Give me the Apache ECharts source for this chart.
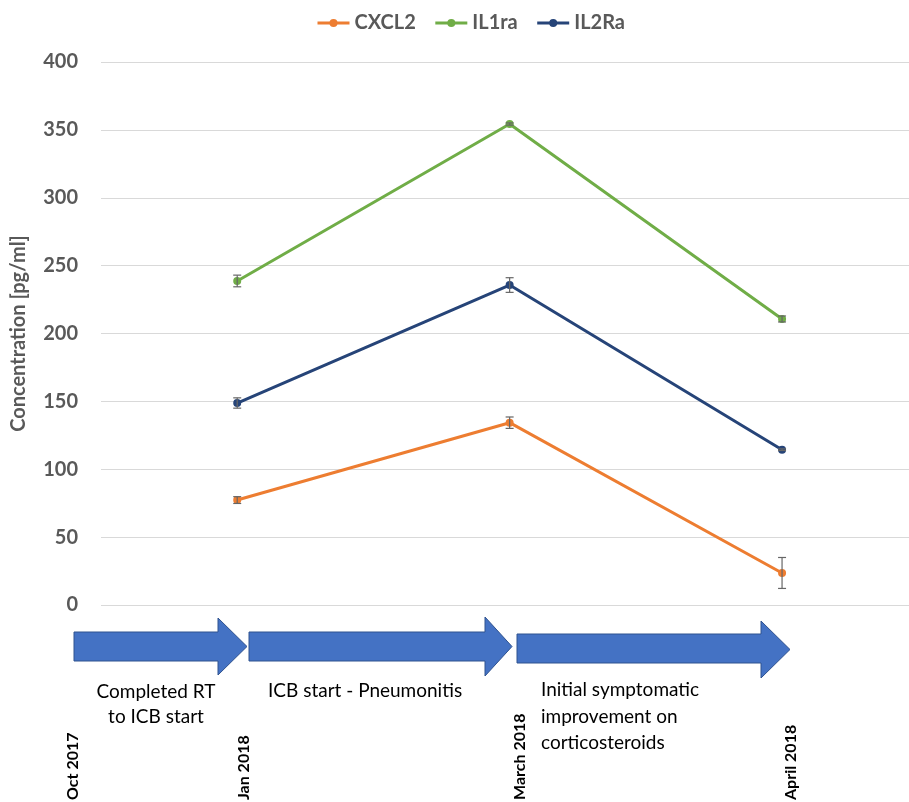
<!DOCTYPE html>
<html>
<head>
<meta charset="utf-8">
<script src="https://cdn.jsdelivr.net/npm/echarts@6/dist/echarts.min.js"></script>
<style>
html,body{margin:0;padding:0;background:#fff;}
#chart{width:909px;height:802px;}
</style>
</head>
<body>
<div id="chart"></div>
<script>
// Time points (index positions on the x scale) and their labels
const timeIndex = [1, 2, 3];
const timeLabels = ['Jan 2018', 'March 2018', 'April 2018'];
const dateTickLabels = ['Oct 2017', 'Jan 2018', 'March 2018', 'April 2018'];

// Series values (pg/ml)
const seriesNames = ['CXCL2', 'IL1ra', 'IL2Ra'];
const cxcl2 = [77.3, 134.3, 23.6];
const il1ra = [238.7, 354.3, 210.7];
const il2ra = [148.8, 235.7, 114.4];

// Error bar half-widths
const cxcl2Err = [2.5, 4.2, 11.4];
const il1raErr = [4.3, 0.8, 2.2];
const il2raErr = [3.8, 5.4, 0.6];

// Y axis ticks
const yTicks = [0, 50, 100, 150, 200, 250, 300, 350, 400];

// Phase annotations
const phaseTexts = ['Completed RT\nto ICB start', 'ICB start - Pneumonitis', 'Initial symptomatic\nimprovement on\ncorticosteroids'];

const colors = ['#ED7D31', '#70AD47', '#264478'];
const FONT = 'Lato, "Open Sans", sans-serif';

function pts(vals) { return vals.map((v, i) => [timeIndex[i], v]); }
function errs(vals, e) { return vals.map((v, i) => [timeIndex[i], v - e[i], v + e[i]]); }

function errRender(params, api) {
  const x = api.value(0);
  const lo = api.coord([x, api.value(1)]);
  const hi = api.coord([x, api.value(2)]);
  const hw = 4;
  const st = { stroke: '#666666', lineWidth: 1.2 };
  return {
    type: 'group',
    children: [
      { type: 'line', shape: { x1: lo[0], y1: lo[1], x2: hi[0], y2: hi[1] }, style: st },
      { type: 'line', shape: { x1: lo[0] - hw, y1: lo[1], x2: lo[0] + hw, y2: lo[1] }, style: st },
      { type: 'line', shape: { x1: hi[0] - hw, y1: hi[1], x2: hi[0] + hw, y2: hi[1] }, style: st }
    ]
  };
}

const lineVals = [cxcl2, il1ra, il2ra];
const errVals = [cxcl2Err, il1raErr, il2raErr];

const series = [];
lineVals.forEach((vals, i) => {
  series.push({
    name: seriesNames[i],
    type: 'line',
    data: pts(vals),
    symbol: 'circle',
    symbolSize: 8,
    lineStyle: { width: 3, color: colors[i] },
    itemStyle: { color: colors[i] },
    z: 2
  });
});
lineVals.forEach((vals, i) => {
  series.push({
    type: 'custom',
    renderItem: errRender,
    data: errs(vals, errVals[i]),
    encode: { x: 0, y: [1, 2] },
    z: 3,
    silent: true
  });
});

function arrow(x0, xb, xt, bt, bb, ht, hb) {
  const ym = (ht + hb) / 2;
  return {
    type: 'polygon',
    shape: { points: [[x0, bt], [xb, bt], [xb, ht], [xt, ym], [xb, hb], [xb, bb], [x0, bb]] },
    style: { fill: '#4472C4', stroke: '#2F528F', lineWidth: 1 },
    z: 10
  };
}

const dateX = [73, 244, 520, 791];
const graphics = [
  arrow(74, 218, 247, 632, 661, 618, 675),
  arrow(249, 485, 512, 632, 661, 617, 676),
  arrow(517, 761, 790, 634, 663, 621, 678),
  { type: 'text', x: 156, y: 679, z: 10,
    style: { text: phaseTexts[0], fill: '#000', font: '19px ' + FONT, textAlign: 'center', textVerticalAlign: 'top', lineHeight: 25 } },
  { type: 'text', x: 268, y: 678, z: 10,
    style: { text: phaseTexts[1], fill: '#000', font: '19px ' + FONT, textAlign: 'left', textVerticalAlign: 'top', lineHeight: 25 } },
  { type: 'text', x: 541, y: 677, z: 10,
    style: { text: phaseTexts[2], fill: '#000', font: '19px ' + FONT, textAlign: 'left', textVerticalAlign: 'top', lineHeight: 26.5 } }
];
dateTickLabels.forEach((t, i) => {
  graphics.push({
    type: 'text', x: dateX[i], y: 800, rotation: Math.PI / 2, z: 10,
    style: { text: t, fill: '#000', font: 'bold 16px ' + FONT, textAlign: 'left', textVerticalAlign: 'middle' }
  });
});

const chart = echarts.init(document.getElementById('chart'), null, { renderer: 'canvas' });
chart.setOption({
  animation: false,
  backgroundColor: '#ffffff',
  color: colors,
  legend: {
    data: seriesNames,
    top: 8,
    left: 311,
    itemWidth: 32,
    itemHeight: 10,
    itemGap: 18,
    lineStyle: { width: 3 },
    textStyle: { fontFamily: FONT, fontSize: 20, fontWeight: 'bold', color: '#595959' }
  },
  grid: { left: 101, right: 0, top: 62, bottom: 197, containLabel: false },
  xAxis: {
    type: 'value',
    min: 0.5,
    max: 3.466,
    show: false,
    splitLine: { show: false }
  },
  yAxis: {
    type: 'value',
    min: yTicks[0],
    max: yTicks[yTicks.length - 1],
    interval: 50,
    name: 'Concentration [pg/ml]',
    nameLocation: 'middle',
    nameRotate: 90,
    nameGap: 72,
    nameTextStyle: { fontFamily: FONT, fontSize: 20, fontWeight: 'bold', color: '#595959' },
    axisLine: { show: false },
    axisTick: { show: false },
    axisLabel: { margin: 23, fontFamily: FONT, fontSize: 20, fontWeight: 'bold', color: '#595959' },
    splitLine: { lineStyle: { color: '#D9D9D9', width: 1 } }
  },
  graphic: graphics,
  series: series
});
</script>
</body>
</html>
